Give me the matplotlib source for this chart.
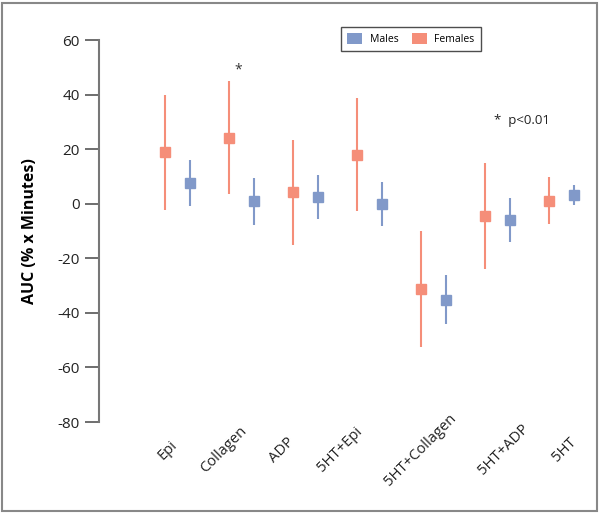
import matplotlib
matplotlib.use("Agg")
import matplotlib.pyplot as plt
from matplotlib.patches import Patch, Rectangle
import numpy as np

plt.rcParams['font.family'] = ['Open Sans', 'DejaVu Sans']

categories = ["Epi", "Collagen", "ADP", "5HT+Epi", "5HT+Collagen", "5HT+ADP", "5HT"]
females_mean = [18.9, 24.1, 4.3, 17.8, -31.3, -4.5, 1.0]
females_low = [-2.3, 3.5, -15.1, -2.7, -52.5, -23.9, -7.4]
females_high = [39.8, 45.0, 23.3, 38.7, -10.0, 14.9, 9.8]
males_mean = [7.6, 1.0, 2.5, -0.1, -35.3, -5.9, 3.2]
males_low = [-0.8, -7.8, -5.6, -8.2, -44.1, -14.0, -0.5]
males_high = [16.0, 9.4, 10.5, 7.9, -26.1, 2.1, 6.9]
yticks = [-80, -60, -40, -20, 0, 20, 40, 60]

# layout: horizontal shift of each category label (in category units)
label_shift = [-0.16, -0.27, -0.37, -0.46, -0.21, 0.10, 0.05]

c_m = '#8199c9'
c_f = '#f58e79'

fig = plt.figure(figsize=(6.0, 5.14), dpi=100)
ax = fig.add_axes([99/600, 1-422/514, (590-99)/600, (422-40)/514])

x = np.arange(len(categories))
off = 0.195
fm = np.array(females_mean); mm = np.array(males_mean)
ax.errorbar(x - off, fm, yerr=[fm - np.array(females_low), np.array(females_high) - fm],
            fmt='s', color=c_f, ecolor=c_f, elinewidth=1.5, markersize=7.5, capsize=0)
ax.errorbar(x + off, mm, yerr=[mm - np.array(males_low), np.array(males_high) - mm],
            fmt='s', color=c_m, ecolor=c_m, elinewidth=1.5, markersize=7.5, capsize=0)

ax.set_xlim((99-177.5)/64, (590-177.5)/64)
ax.set_ylim(-80, 60)
ax.set_yticks(yticks)
ax.set_yticklabels([str(v) for v in yticks], fontsize=11, color='#222222')
ax.set_xticks(x + np.array(label_shift))
ax.set_xticklabels(categories, rotation=45, ha='center', va='center', rotation_mode='anchor',
                   fontsize=10.6, color='#222222')
ax.tick_params(axis='x', length=0, pad=20)
ax.tick_params(axis='y', length=10, width=1.2, color='#555555', pad=4)
for s in ['top', 'right', 'bottom']:
    ax.spines[s].set_visible(False)
ax.spines['left'].set_color('#777777')
ax.spines['left'].set_linewidth(1.5)
ax.set_ylabel("AUC (% x Minutes)", fontsize=11.5, fontweight='bold', labelpad=14)

ax.text(1 - off + 0.14, 49, "*", fontsize=10, ha='center', va='center', color='#333333')
ax.text(4.94, 30.5, "*  p<0.01", fontsize=9.5, ha='left', va='center', color='#222222')

handles = [Patch(facecolor=c_m, edgecolor='none', label='Males'),
           Patch(facecolor=c_f, edgecolor='none', label='Females')]
leg = fig.legend(handles=handles, loc='upper left', bbox_to_anchor=(341/600, 1-27/514),
                 ncol=2, fontsize=7.5, frameon=True, fancybox=False, edgecolor='#222222',
                 handlelength=1.45, handleheight=1.2, columnspacing=1.3, borderpad=0.6,
                 handletextpad=0.7, borderaxespad=0)
leg.get_frame().set_linewidth(1.0)

fig.patches.append(Rectangle((2/600, 3/514), 595/600, 508/514, transform=fig.transFigure,
                             fill=False, edgecolor='#888888', linewidth=1.5))

fig.savefig("out.png", dpi=100)
